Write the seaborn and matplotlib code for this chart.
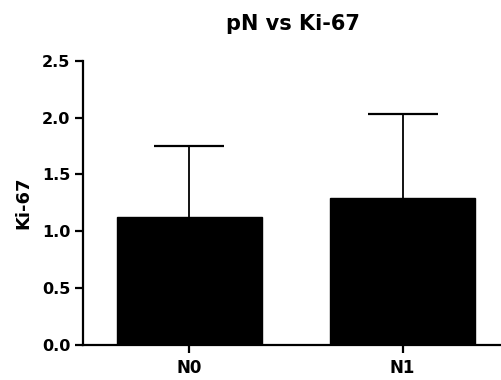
import matplotlib
matplotlib.use("Agg")
import matplotlib.pyplot as plt
import seaborn as sns
import pandas as pd
import numpy as np

categories = ["N0", "N1"]
means = [1.127, 1.294]
sd_upper = [0.622, 0.742]  # upward error (mean + sd top)

sns.set_theme(style="ticks")
plt.rcParams['font.family'] = ['DejaVu Sans']
plt.rcParams['font.weight'] = 'bold'
plt.rcParams['text.color'] = 'black'
plt.rcParams['axes.labelcolor'] = 'black'
plt.rcParams['xtick.color'] = 'black'
plt.rcParams['ytick.color'] = 'black'

df = pd.DataFrame({"group": categories, "value": means})

fig = plt.figure(figsize=(5.02, 3.80), dpi=100)
ax = fig.add_axes([0.1653, 0.0921, 0.8347, 0.748])

sns.barplot(data=df, x="group", y="value", color="black", width=0.685,
            saturation=1, errorbar=None, ax=ax, edgecolor="black", zorder=2)
_, caplines, _ = ax.errorbar(x=np.arange(len(categories)), y=means,
            yerr=[np.zeros(len(means)), sd_upper], fmt="none",
            ecolor="black", elinewidth=1.3, capsize=25.5, capthick=1.6, zorder=1)
caplines[0].set_visible(False)

ax.set_xlim(-0.5, 1.467)
ax.set_ylim(0, 2.5)
ax.set_yticks([0.0, 0.5, 1.0, 1.5, 2.0, 2.5])
ax.set_yticklabels(["0.0", "0.5", "1.0", "1.5", "2.0", "2.5"])
ax.set_xlabel("")
ax.set_ylabel("Ki-67", fontsize=13, fontweight="bold", labelpad=7, color="black")
ax.set_title("pN vs Ki-67", fontsize=15, fontweight="bold", pad=22, color="black")
for s in ["top", "right"]:
    ax.spines[s].set_visible(False)
for s in ["left", "bottom"]:
    ax.spines[s].set_linewidth(1.6)
    ax.spines[s].set_color("black")
ax.tick_params(axis="y", which="major", length=6, width=1.6, color="black",
               labelcolor="black", labelsize=11.5, pad=3)
ax.tick_params(axis="x", which="major", length=6, width=1.6, color="black",
               labelcolor="black", labelsize=12, pad=4)
for lab in ax.get_xticklabels() + ax.get_yticklabels():
    lab.set_fontweight("bold")

fig.savefig("out.png", dpi=100)
